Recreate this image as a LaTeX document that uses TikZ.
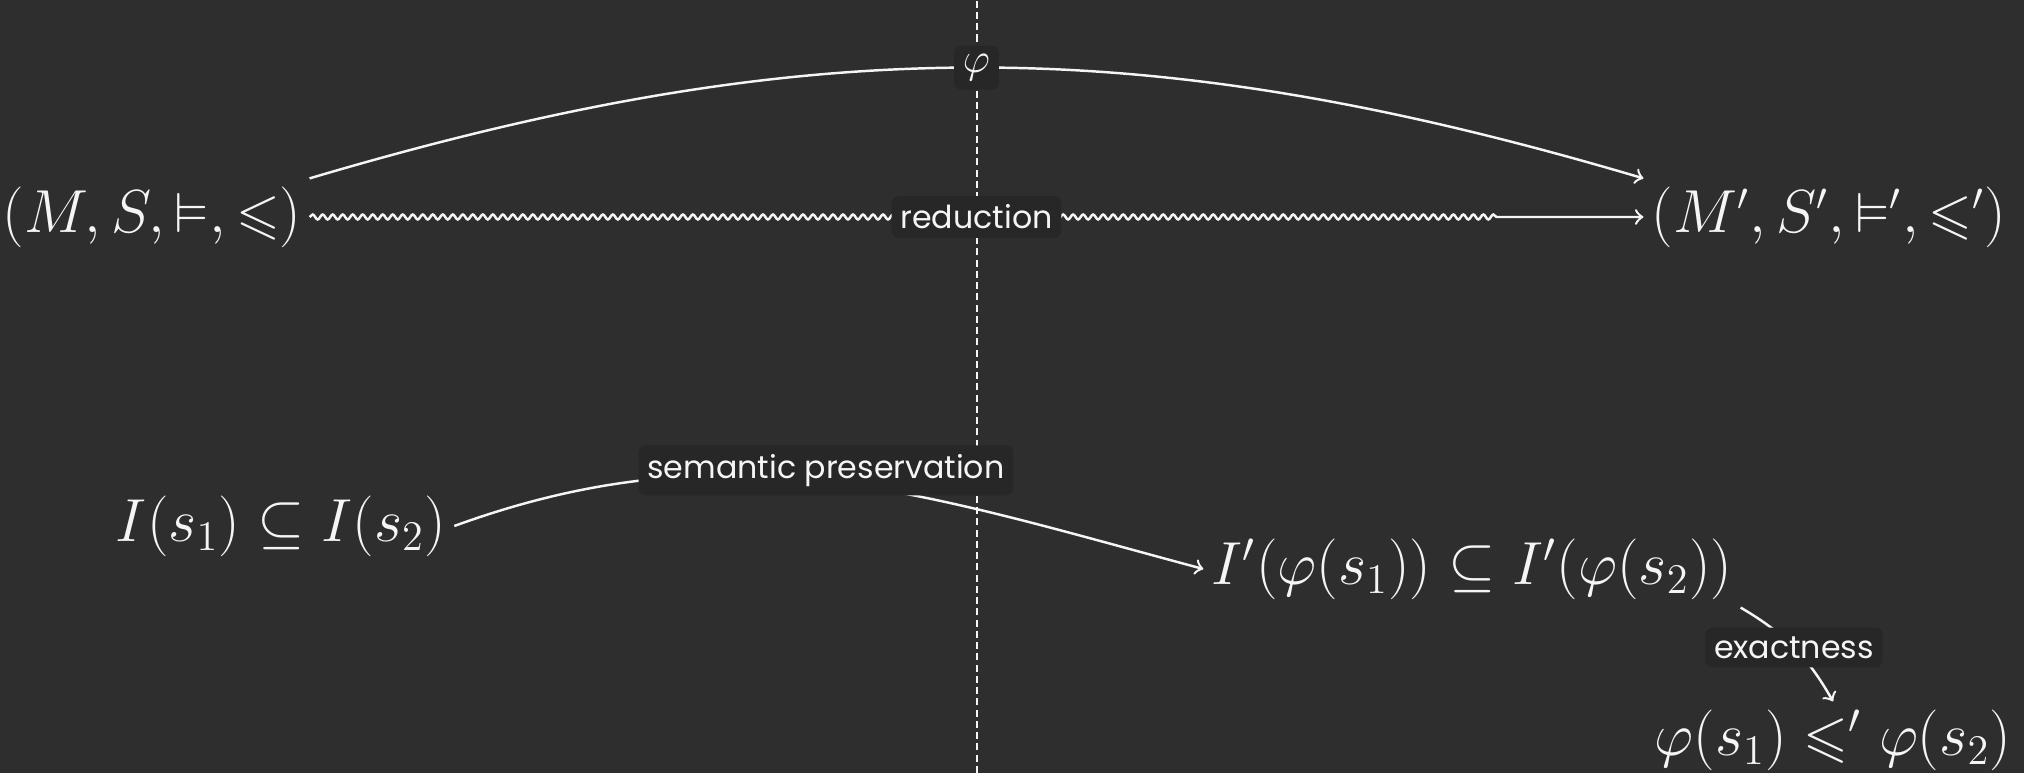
\documentclass[tikz,border=0pt]{standalone}
\usepackage{amssymb}
\usepackage{fontspec}
\newfontfamily\chalkfont{Poppins}
\usetikzlibrary{decorations.pathmorphing}
\definecolor{board}{RGB}{46,46,46}
\definecolor{boardlbl}{RGB}{39,39,39}
\definecolor{chalk}{RGB}{245,245,245}

\begin{document}
\begin{tikzpicture}[x=0.01cm, y=0.01cm, chalk, line width=0.7pt,
	term/.style={text=chalk, inner sep=2pt, font=\fontsize{16}{19}\selectfont},
	termb/.style={term, font=\fontsize{16.4}{19}\selectfont},
	lbl/.style={fill=boardlbl, text=chalk, rounded corners=2pt, inner sep=2.5pt, font=\chalkfont\fontsize{9}{11}\selectfont},
	wavy/.style={decorate, decoration={snake, amplitude=.25mm, segment length=1mm, post length=1.45cm}}]
	\useasboundingbox (0,0) rectangle (2024,773);
	\fill[board] (0,0) rectangle (2024,773);
	\draw[dash pattern=on 2pt off 1.2pt, line width=0.6pt] (977,0) -- (977,773);
	\node[term] (L) at (152,556) {$(M,S,\vDash,\leqslant)$};
	\node[term] (R) at (1829,556) {$(M',S',\vDash',\leqslant')$};
	\node[termb] (I1) at (281,247) {$I(s_1)\subseteq I(s_2)$};
	\node[termb] (I2) at (1472,204) {$I'(\varphi(s_1))\subseteq I'(\varphi(s_2))$};
	\node[termb] (P) at (1833,33) {$\varphi(s_1)\leqslant'\varphi(s_2)$};
	\draw[->] (L.north east) to[bend left=16.5] node[lbl, font=\fontsize{13}{15}\selectfont]{$\varphi$} (R.north west);
	\draw[->, wavy] (L) -- node[lbl]{reduction} (R);
	\draw[->] (I1.east) to[out=20, in=165] node[lbl, yshift=0.11cm]{semantic preservation} (I2.west);
	\draw[->] (I2.south east) to[bend left=15] node[lbl]{exactness} (P.north);
\end{tikzpicture}
\end{document}
